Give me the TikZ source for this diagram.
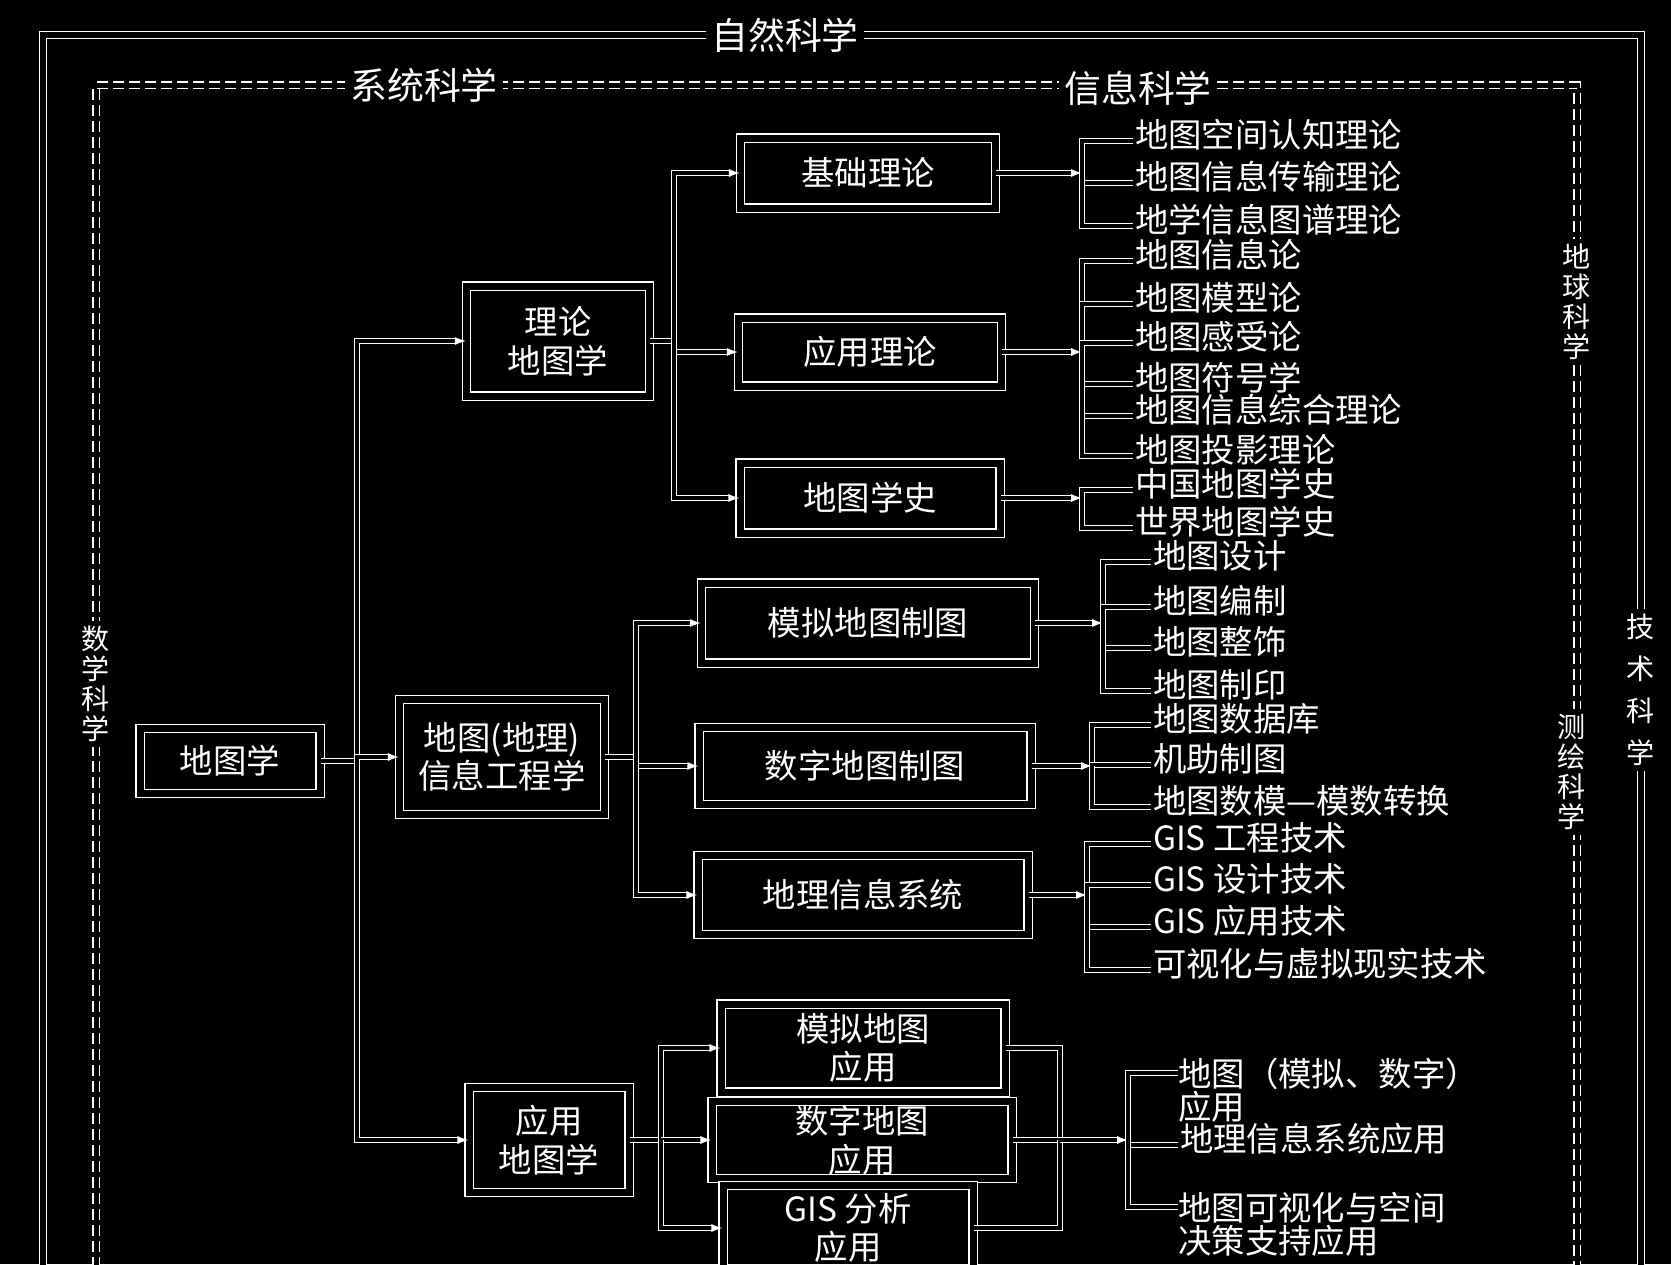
\documentclass[tikz,border=0pt]{standalone}
\usepackage{fontspec}
\setmainfont{Noto Sans CJK SC}
\usetikzlibrary{arrows.meta,calc}

\begin{document}
\begin{tikzpicture}[
    x=0.2mm, y=-0.2mm,
    font=\fontsize{19}{22}\selectfont,
    every node/.style={text=white},
    box/.style={
        draw=white,
        double=black,
        double distance=1.4mm,
        line width=0.8pt,
        align=center,
        inner sep=2pt
    },
    leaf/.style={anchor=west, align=left, inner sep=1pt, text height=0.8em, text depth=0.1em},
    leaf2/.style={anchor=west, align=left, inner sep=0pt, font=\fontsize{19}{19}\selectfont},
    frame/.style={draw=white, double=black, double distance=1.2mm, line width=0.8pt},
    dframe/.style={draw=white, double=black, double distance=1mm, line width=0.7pt, dash pattern=on 2.2mm off 1mm},
    tag/.style={fill=black, inner sep=3pt, font=\fontsize{21}{24}\selectfont},
    vtag/.style={fill=black, inner sep=3pt, align=center, font=\fontsize{16}{17}\selectfont},
    link/.style={draw=white, double=black, double distance=0.8mm, line width=0.6pt},
    arrow/.style={link, -{Latex[length=2.2mm]}}
]
\useasboundingbox (0,0) rectangle (1671,1264);
\fill[black] (0,0) rectangle (1671,1264);
\clip (0,0) rectangle (1671,1264);

% Frames
\draw[frame] (43,1300) -- (43,35) -- (1641,35) -- (1641,1300);
\draw[dframe] (96,1300) -- (96,85) -- (1577,85) -- (1577,1300);
\node[tag] (zrkx) at (785,35) {自然科学};
\node[tag] (xtkx) at (424,85) {系统科学};
\node[tag] (xxkx) at (1138,88) {信息科学};
\node[vtag] (sxkx) at (96,684) {数\\学\\科\\学};
\node[vtag] (dqkx) at (1577,302) {地\\球\\科\\学};
\node[vtag] (chkx) at (1572,772) {测\\绘\\科\\学};
\node[vtag, font=\fontsize{16}{24}\selectfont] (jskx) at (1641,690) {技\\术\\科\\学};

% Level 0 and 1
\node[box, minimum width=36mm, minimum height=13mm] (dtx) at (230,761) {地图学};
\node[box, minimum width=36.6mm, minimum height=22mm] (llx) at (558,341) {理论\\地图学};
\node[box, minimum width=41mm, minimum height=23mm] (gcx) at (502,757) {地图(地理)\\信息工程学};
\node[box, minimum width=32mm, minimum height=21mm] (yyx) at (549,1140) {应用\\地图学};

% Level 2
\node[box, minimum width=51mm, minimum height=14mm] (jcll) at (868,173) {基础理论};
\node[box, minimum width=52.6mm, minimum height=13.6mm] (yyll) at (870,352) {应用理论};
\node[box, minimum width=52mm, minimum height=14mm] (dtxs) at (870,498) {地图学史};
\node[box, minimum width=66.6mm, minimum height=16mm] (mnzt) at (868,623) {模拟地图制图};
\node[box, minimum width=66.4mm, minimum height=15.4mm] (szzt) at (865,766) {数字地图制图};
\node[box, minimum width=66mm, minimum height=15.8mm] (gis) at (863,895) {地理信息系统};
\node[box, minimum width=56.8mm, minimum height=17.6mm] (mnyy) at (863,1048) {模拟地图\\应用};
\node[box, minimum width=60mm, minimum height=15mm] (szyy) at (862,1140) {数字地图\\应用};
\node[box, minimum width=50mm, minimum height=17mm] (fxyy) at (848,1228) {GIS 分析\\应用};

% Leaves
\node[leaf] (l1) at (1133,141) {地图空间认知理论};
\node[leaf] (l2) at (1133,183) {地图信息传输理论};
\node[leaf] (l3) at (1133,226) {地学信息图谱理论};
\node[leaf] (l4) at (1133,261) {地图信息论};
\node[leaf] (l5) at (1133,304) {地图模型论};
\node[leaf] (l6) at (1133,343) {地图感受论};
\node[leaf] (l7) at (1133,384) {地图符号学};
\node[leaf] (l8) at (1133,416) {地图信息综合理论};
\node[leaf] (l9) at (1133,456) {地图投影理论};
\node[leaf] (l10) at (1133,490) {中国地图学史};
\node[leaf] (l11) at (1133,528) {世界地图学史};
\node[leaf] (m1) at (1151,562) {地图设计};
\node[leaf] (m2) at (1151,607) {地图编制};
\node[leaf] (m3) at (1151,648) {地图整饰};
\node[leaf] (m4) at (1151,691) {地图制印};
\node[leaf] (m5) at (1151,725) {地图数据库};
\node[leaf] (m6) at (1151,765) {机助制图};
\node[leaf] (m7) at (1151,807) {地图数模—模数转换};
\node[leaf] (m8) at (1151,844) {GIS 工程技术};
\node[leaf] (m9) at (1151,885) {GIS 设计技术};
\node[leaf] (m10) at (1151,927) {GIS 应用技术};
\node[leaf] (m11) at (1151,970) {可视化与虚拟现实技术};
\node[leaf2] (n1) at (1178,1090) {地图（模拟、数字）\\应用};
\node[leaf] (n2) at (1178,1145) {地理信息系统应用};
\node[leaf2] (n3) at (1178,1224) {地图可视化与空间\\决策支持应用};

% Connectors
\coordinate (t0) at (357,761);
\draw[link] (dtx.east) -- (t0);
\foreach \n in {llx,gcx,yyx} \draw[arrow] (t0) |- (\n.west);

\coordinate (t1) at (674,341);
\draw[link] (llx.east) -- (t1);
\foreach \n in {jcll,yyll,dtxs} \draw[arrow] (t1) |- (\n.west);

\coordinate (t2) at (636,757);
\draw[link] (gcx.east) -- (t2);
\foreach \n in {mnzt,szzt,gis} \draw[arrow] (t2) |- (\n.west);

\coordinate (t3) at (661,1140);
\draw[link] (yyx.east) -- (t3);
\foreach \n in {mnyy,szyy,fxyy} \draw[arrow] (t3) |- (\n.west);

\coordinate (b1) at (1082,173);
\draw[arrow] (jcll.east) -- (b1);
\foreach \n in {l1,l2,l3} \draw[link] (b1) |- (\n.west);
\coordinate (b2) at (1082,352);
\draw[arrow] (yyll.east) -- (b2);
\foreach \n in {l4,l5,l6,l7,l8,l9} \draw[link] (b2) |- (\n.west);
\coordinate (b3) at (1082,498);
\draw[arrow] (dtxs.east) -- (b3);
\foreach \n in {l10,l11} \draw[link] (b3) |- (\n.west);

\coordinate (b4) at (1103,623);
\draw[arrow] (mnzt.east) -- (b4);
\foreach \n in {m1,m2,m3,m4} \draw[link] (b4) |- (\n.west);
\coordinate (b5) at (1092,766);
\draw[arrow] (szzt.east) -- (b5);
\foreach \n in {m5,m6,m7} \draw[link] (b5) |- (\n.west);
\coordinate (b6) at (1087,895);
\draw[arrow] (gis.east) -- (b6);
\foreach \n in {m8,m9,m10,m11} \draw[link] (b6) |- (\n.west);

\coordinate (c1) at (1060,1140);
\foreach \n in {mnyy,szyy,fxyy} \draw[link] (\n.east) -| (c1);
\coordinate (b7) at (1128,1140);
\draw[arrow] (c1) -- (b7);
\draw[link] (b7) |- ([yshift=-3.2mm]n1.north west);
\draw[link] (b7) |- (n2.west);
\draw[link] (b7) |- ([yshift=-3.2mm]n3.north west);

\end{tikzpicture}
\end{document}
